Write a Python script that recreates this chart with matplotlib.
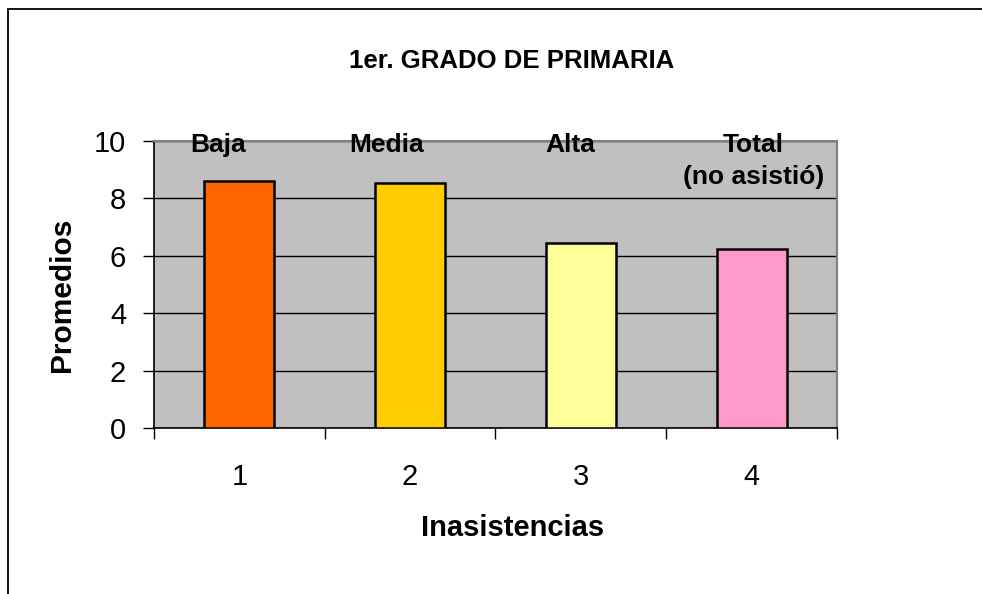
import matplotlib
matplotlib.use("Agg")
import matplotlib.pyplot as plt
from matplotlib.patches import Rectangle
from matplotlib.ticker import FixedLocator

categories = [1, 2, 3, 4]
values = [8.61, 8.54, 6.45, 6.24]
colors = ["#FF6600", "#FFCC00", "#FFFF99", "#FF99CC"]
bar_labels = ["Baja", "Media", "Alta", "Total\n(no asistió)"]
title = "1er. GRADO DE PRIMARIA"
xlabel = "Inasistencias"
ylabel = "Promedios"

plt.rcParams['font.family'] = ['Liberation Sans', 'DejaVu Sans']

fig = plt.figure(figsize=(9.82, 5.94), dpi=100)
W, H = 982, 594
# outer border
fig.patches.append(Rectangle((8 / W, -0.2), 1.2, 1 - 9 / H + 0.2, transform=fig.transFigure,
                             fill=False, edgecolor="black", linewidth=1.3))

ax = fig.add_axes([154 / W, 1 - 428 / H, (837 - 154) / W, (428 - 141) / H])
ax.set_facecolor("#C0C0C0")
ax.bar(categories, values, width=0.41, color=colors, edgecolor="black", linewidth=1.8, zorder=3)

ax.set_xlim(0.5, 4.5)
ax.set_ylim(0, 10)
ax.set_yticks([0, 2, 4, 6, 8, 10])
ax.yaxis.grid(True, color="black", linewidth=1.0, zorder=1)
ax.set_axisbelow(True)

ax.set_xticks(categories)
ax.set_xticklabels([str(c) for c in categories])
ax.xaxis.set_minor_locator(FixedLocator([0.5, 1.5, 2.5, 3.5, 4.5]))
ax.tick_params(axis="x", which="major", length=0, pad=25, labelsize=21)
ax.tick_params(axis="x", which="minor", length=8, width=1, direction="out", color="black")
ax.tick_params(axis="y", length=8, width=1, direction="out", pad=12, labelsize=21)

for s in ["top", "right"]:
    ax.spines[s].set_color("#808080")
    ax.spines[s].set_linewidth(1.5)
for s in ["left", "bottom"]:
    ax.spines[s].set_color("black")
    ax.spines[s].set_linewidth(1.2)

# category labels
label_x = [0.875, 1.86, 2.94, 4.01]
label_y = [9.85, 9.85, 9.85, 9.3]
for x, y, t in zip(label_x, label_y, bar_labels):
    ax.text(x, y, t, ha="center", va="center", fontsize=19, fontweight="bold",
            linespacing=1.4, zorder=5, clip_on=False)

fig.text(512 / W, 1 - 61 / H, title, ha="center", va="center", fontsize=18.5, fontweight="bold")
fig.text(513 / W, 1 - 528 / H, xlabel, ha="center", va="center", fontsize=21, fontweight="bold")
fig.text(62 / W, 1 - 295 / H, ylabel, ha="center", va="center", fontsize=21.5, fontweight="bold",
         rotation=90)

fig.savefig("out.png", dpi=100)
